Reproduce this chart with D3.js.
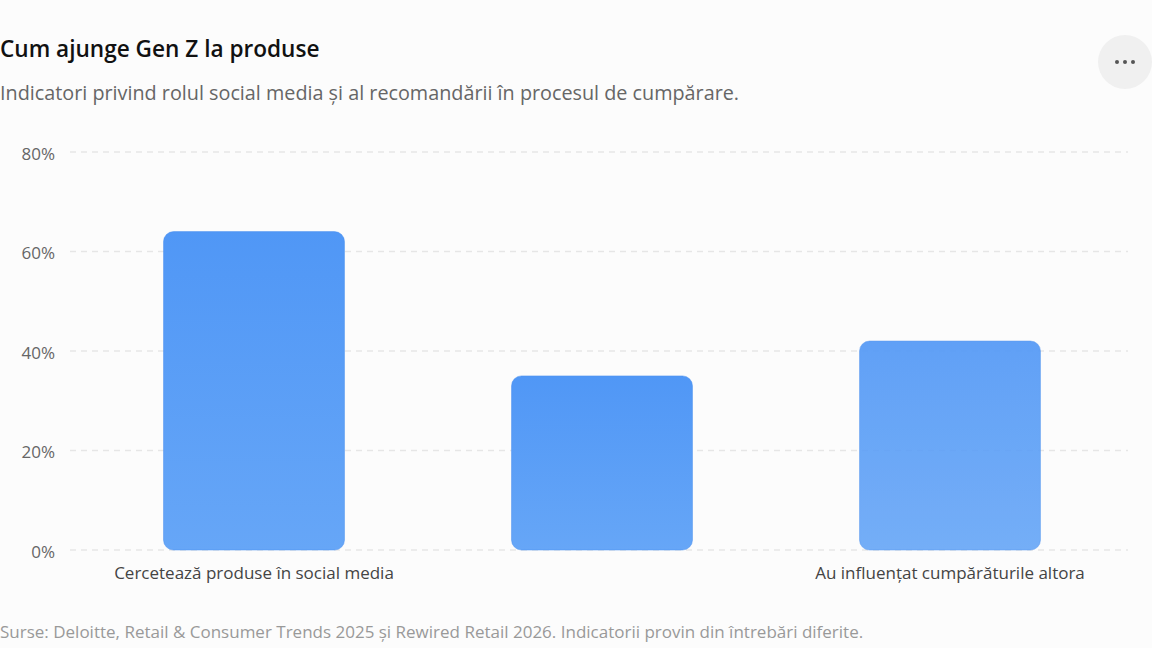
<!DOCTYPE html>
<meta charset="utf-8">
<script src="https://d3js.org/d3.v7.min.js"></script>
<style>
  body { margin: 0; background: #fcfcfc; }
  svg text { font-family: "Open Sans", "Noto Sans", sans-serif; }
</style>
<div id="chart"></div>
<script>
// data
var categories = ["Cercetează produse în social media", "Cumpără după recomandări", "Au influențat cumpărăturile altora"];
var values = [64, 35, 42];
var yTicks = [0, 20, 40, 60, 80];
var shownLabels = [true, false, true];

var W = 1152, H = 648;
var svg = d3.select("#chart").append("svg")
  .attr("width", W).attr("height", H)
  .style("background", "#fcfcfc");

// title + subtitle
svg.append("text").attr("x", 0).attr("y", 57)
  .style("font-size", "22.6px").style("font-weight", 600).style("fill", "#111")
  .text("Cum ajunge Gen Z la produse");
svg.append("text").attr("x", 0).attr("y", 100)
  .style("font-size", "19.8px").style("fill", "#666")
  .text("Indicatori privind rolul social media și al recomandării în procesul de cumpărare.");

// menu button
svg.append("circle").attr("cx", 1125).attr("cy", 62).attr("r", 27).style("fill", "#f0f0f0");
[-8, 0, 8].forEach(function(dx) {
  svg.append("circle").attr("cx", 1125 + dx).attr("cy", 62).attr("r", 2).style("fill", "#555");
});

var plotLeft = 70, plotRight = 1128, plotTop = 152, plotBottom = 550;

var x = d3.scaleBand()
  .domain(categories)
  .range([80, 1124])
  .paddingInner(0.48)
  .paddingOuter(0.24);

var y = d3.scaleLinear()
  .domain([0, 80])
  .range([plotBottom, plotTop]);

// gridlines
svg.append("g").selectAll("line")
  .data(yTicks).enter().append("line")
  .attr("x1", plotLeft).attr("x2", plotRight)
  .attr("y1", function(d) { return y(d); })
  .attr("y2", function(d) { return y(d); })
  .style("stroke", "#e6e6e6").style("stroke-width", 1.5)
  .style("stroke-dasharray", "6,5");

// y labels
svg.append("g").selectAll("text")
  .data(yTicks).enter().append("text")
  .attr("x", 55).attr("y", function(d) { return y(d) + 2; })
  .attr("dy", "0.35em")
  .style("text-anchor", "end").style("font-size", "17px").style("fill", "#666")
  .text(function(d) { return d + "%"; });

// gradient
var defs = svg.append("defs");
var grad = defs.append("linearGradient").attr("id", "barGrad")
  .attr("x1", 0).attr("y1", 0).attr("x2", 0).attr("y2", 1);
grad.append("stop").attr("offset", "0%").attr("stop-color", "#5097f6");
grad.append("stop").attr("offset", "100%").attr("stop-color", "#66a6f7");

// bars
svg.append("g").selectAll("rect")
  .data(values).enter().append("rect")
  .attr("x", function(d, i) { return x(categories[i]); })
  .attr("width", x.bandwidth())
  .attr("y", function(d) { return y(d); })
  .attr("height", function(d) { return y(0) - y(d); })
  .attr("rx", 10).attr("ry", 10)
  .style("fill", "url(#barGrad)")
  .style("opacity", function(d, i) { return i === 2 ? 0.9 : 1; })
  .style("stroke", "#4a90f0").style("stroke-opacity", 0.5).style("stroke-width", 1);

// category labels
svg.append("g").selectAll("text")
  .data(categories).enter().append("text")
  .filter(function(d, i) { return shownLabels[i]; })
  .attr("x", function(d) { return x(d) + x.bandwidth() / 2; })
  .attr("y", 579)
  .style("text-anchor", "middle").style("font-size", "17px").style("fill", "#444")
  .text(function(d) { return d; });

// source
svg.append("text").attr("x", 0).attr("y", 638)
  .style("font-size", "17px").style("fill", "#999")
  .text("Surse: Deloitte, Retail & Consumer Trends 2025 și Rewired Retail 2026. Indicatorii provin din întrebări diferite.");
</script>
